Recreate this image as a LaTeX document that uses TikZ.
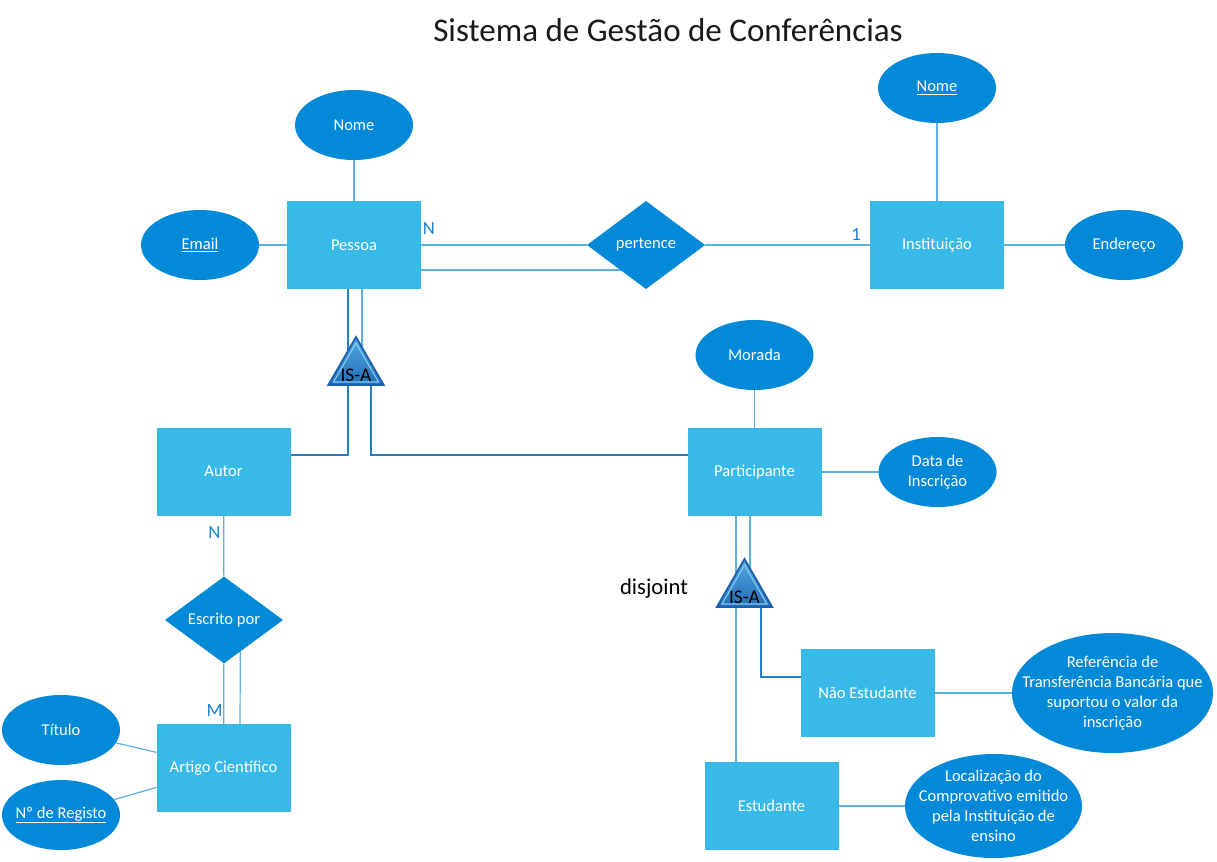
\documentclass[tikz,border=0pt]{standalone}
\usepackage{fontspec}
\setmainfont{Carlito}
\usetikzlibrary{positioning,calc,shapes.geometric}
\pgfdeclarelayer{bg}
\pgfsetlayers{bg,main}
\definecolor{entcol}{RGB}{56,185,232}
\definecolor{attcol}{RGB}{2,137,216}
\definecolor{lnkcol}{RGB}{92,176,228}
\definecolor{sublnkcol}{RGB}{36,128,198}
\definecolor{cardcol}{RGB}{30,130,210}
\definecolor{isatop}{RGB}{84,168,226}
\definecolor{isabot}{RGB}{34,108,182}
\definecolor{isaedge}{RGB}{26,96,172}
\definecolor{isaline}{RGB}{130,200,242}
\tikzset{
	entity/.style={rectangle,fill=entcol,text=white,minimum width=100.5pt,minimum height=66pt,inner sep=0pt,outer sep=0pt},
	attr/.style={ellipse,fill=attcol,text=white,align=center,minimum width=88.5pt,minimum height=52.5pt,inner ysep=0pt,inner xsep=-3pt,outer sep=0pt},
	attrtext/.style={text=white,align=center},
	rel/.style={diamond,fill=attcol,text=white,aspect=1.34,minimum width=88.5pt,minimum height=66pt,inner sep=0pt,outer sep=0pt},
	link/.style={draw=lnkcol,line width=0.9pt},
	sublink/.style={draw=sublnkcol,line width=0.9pt},
	card/.style={text=cardcol,font=\fontsize{14}{17}\selectfont},
	isa/.style={regular polygon,regular polygon sides=3,minimum size=48pt,inner sep=0pt,top color=isatop,bottom color=isabot,draw=isaedge,line width=1.3pt},
	isain/.style={regular polygon,regular polygon sides=3,minimum size=39pt,inner sep=0pt,draw=isaline,line width=0.9pt},
	isatext/.style={text=black,yshift=-4.5pt,font=\fontsize{14.5}{17}\selectfont},
	heading/.style={anchor=base,text=black!90,font=\fontsize{24.8}{30}\selectfont},
	disj/.style={anchor=base,text=black,font=\fontsize{17}{20}\selectfont},
}
\begin{document}
\begin{tikzpicture}[x=0.75pt,y=-0.75pt,font=\fontsize{12.4}{15}\selectfont]
		\useasboundingbox (0,0) rectangle (1217,861);
		\node[heading] (Cabecalho) at (668,41) {Sistema de Gestão de Conferências};
		%
		\node[entity] (Pessoa) at (354,245) {Pessoa};
		\node[attr,above=30.75pt of Pessoa] (NomeP) {Nome};
		\node[attr,left=21pt of Pessoa] (Email) {\underline{Email}};
		\node[rel] (Pertence) at (646,245) {pertence};
		\node[entity] (Instituicao) at (937,245) {Instituição};
		\node[attr,above=58.5pt of Instituicao] (NomeI) {\underline{Nome}};
		\node[attr,right=45.75pt of Instituicao] (Endereco) {Endereço};
		\node[card] (cardN1) at (429,229) {N};
		\node[card] (card1) at (856,234) {1};
		%
		\node[isa] (ISA1) at (356,369) {};
		\node[isain,label={[isatext]center:IS-A}] (ISA1in) at (ISA1) {};
		\node[entity] (Autor) at (223.5,471.5) {Autor};
		\node[entity] (Participante) at (754.5,472) {Participante};
		\node[attr,above=28.5pt of Participante] (Morada) {Morada};
		\node[attr,right=42.75pt of Participante] (DataInscricao) {Data de\\Inscrição};
		%
		\node[rel,minimum height=65pt] (Escrito) at (224,620) {Escrito por};
		\node[card] (cardN2) at (214.5,532.5) {N};
		\node[card] (cardM) at (214.5,710) {M};
		\node[entity] (Artigo) at (223.5,768) {Artigo Científico};
		\node[attr] (Titulo) at (61,730) {Título};
		\node[attr] (Registo) at (61,815) {\underline{Nº de Registo}};
		%
		\node[isa] (ISA2) at (744.5,591) {};
		\node[isain,label={[isatext]center:IS-A}] (ISA2in) at (ISA2) {};
		\node[disj] (Disjoint) at (654,594) {disjoint};
		\node[entity] (NaoEstudante) at (867.5,693) {Não Estudante};
		\node[entity] (Estudante) at (771.5,806) {Estudante};
		\node[attr,minimum width=150.75pt,minimum height=90pt,label={[attrtext]center:Referência de\\Transferência Bancária que\\suportou o valor da\\inscrição}] (Referencia) at (1112.5,693) {};
		\node[attr,minimum width=132.75pt,minimum height=78pt,label={[attrtext]center:Localização do\\Comprovativo emitido\\pela Instituição de\\ensino}] (Localizacao) at (993.5,806) {};
		%
		\coordinate (pdbl) at ($(Pessoa.east)+(0,25)$);
		\coordinate (aj) at ($(Autor.east)+(0,-16.5)$);
		\coordinate (nj) at ($(NaoEstudante.west)+(0,-16)$);
		\begin{pgfonlayer}{bg}
			\draw[link] (NomeP) -- (Pessoa);
			\draw[link] (Email) -- (Pessoa);
			\draw[link] (Pessoa) -- (Pertence);
			\draw[link] (pdbl) -- (pdbl -| Pertence.center);
			\draw[link] (Pertence) -- (Instituicao);
			\draw[link] (NomeI) -- (Instituicao);
			\draw[link] (Instituicao) -- (Endereco);
			%
			\draw[link] ($(Pessoa.south)+(8,0)$) -- ($(ISA1.center)+(6,0)$);
			\draw[sublink] ($(Pessoa.south)+(-6,0)$) |- (aj);
			\draw[sublink] ($(ISA1.center)+(15,0)$) |- (Participante.west |- aj);
			\draw[link] (Morada) -- (Participante);
			\draw[link] (Participante) -- (DataInscricao);
			%
			\draw[link] (Autor) -- (Escrito);
			\draw[link] (Escrito) -- (Artigo);
			\draw[link] ($(Escrito.center)+(16.5,0)$) -- ($(Artigo.north)+(16.5,0)$);
			\draw[link] (Titulo) -- (Artigo);
			\draw[link] (Registo) -- (Artigo);
			%
			\draw[link] ($(Participante.south)+(-4.5,0)$) -- ($(ISA2.center)+(5.5,0)$);
			\draw[link] ($(Participante.south)+(-18.5,0)$) -- ($(Estudante.north)+(-35.5,0)$);
			\draw[sublink] ($(ISA2.center)+(16.5,0)$) |- (nj);
			\draw[link] (NaoEstudante) -- (Referencia);
			\draw[link] (Estudante) -- (Localizacao);
		\end{pgfonlayer}
	\end{tikzpicture}
\end{document}
